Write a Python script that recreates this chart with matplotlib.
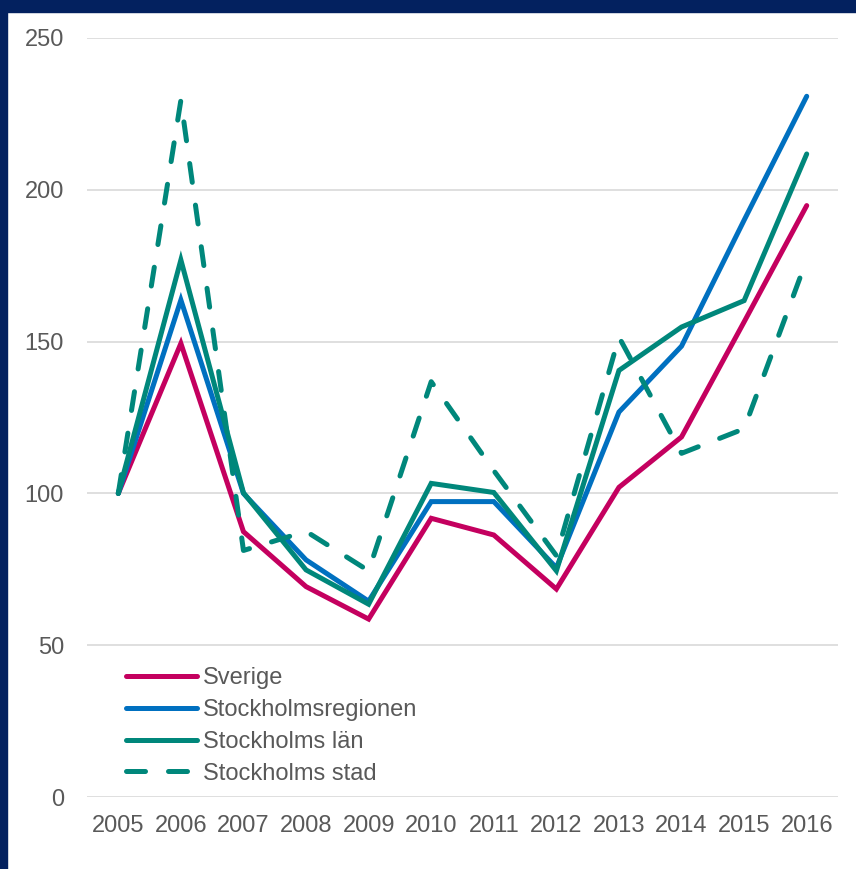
import matplotlib
matplotlib.use("Agg")
import matplotlib.pyplot as plt
from matplotlib.patches import Rectangle

years = ["2005", "2006", "2007", "2008", "2009", "2010", "2011", "2012",
         "2013", "2014", "2015", "2016"]
sverige = [100, 149.4, 87.4, 69.3, 58.6, 91.8, 86.3, 68.5, 102, 118.6, 156.5, 194.8]
sthlm_regionen = [100, 163.7, 100, 78.1, 64.5, 97.3, 97.3, 75.5, 126.8, 148.5, 190, 230.8]
sthlm_lan = [100, 176.9, 100.2, 74.8, 63.5, 103.3, 100.3, 74.5, 140.5, 154.8, 163.5, 211.8]
sthlm_stad = [100, 229.5, 81.2, 87.5, 74.5, 136.8, 107.5, 79.5, 151.5, 113.2, 121.3, 177]

labels = ["Sverige", "Stockholmsregionen", "Stockholms län", "Stockholms stad"]
yticks = [0, 50, 100, 150, 200, 250]

C_MAG = "#C4005F"
C_BLUE = "#0070C0"
C_TEAL = "#00877B"
NAVY = "#03215F"
TXT = "#595959"

plt.rcParams["font.family"] = ["Liberation Sans", "DejaVu Sans"]

fig = plt.figure(figsize=(8.56, 8.69), dpi=100)
W, H = 856, 869
ax = fig.add_axes([87 / W, 1 - 797 / H, (838 - 87) / W, (797 - 38) / H])

x = list(range(len(years)))
lw = 3.6
ax.plot(x, sverige, color=C_MAG, lw=lw, solid_capstyle="round", solid_joinstyle="miter", label=labels[0], zorder=3)
ax.plot(x, sthlm_regionen, color=C_BLUE, lw=lw, solid_capstyle="round", solid_joinstyle="miter", label=labels[1], zorder=4)
ax.plot(x, sthlm_lan, color=C_TEAL, lw=lw, solid_capstyle="round", solid_joinstyle="miter", label=labels[2], zorder=5)
ax.plot(x, sthlm_stad, color=C_TEAL, lw=lw, linestyle=(0, (3.8, 4.6)), dash_capstyle="round",
        label=labels[3], zorder=6)

ax.set_xlim(-0.5, len(years) - 0.5)
ax.set_ylim(0, 250)
ax.set_yticks(yticks)
ax.set_xticks(x)
ax.set_xticklabels(years)
ax.grid(axis="y", color="#D9D9D9", lw=1.2)
ax.set_axisbelow(True)
for s in ax.spines.values():
    s.set_visible(False)
ax.tick_params(axis="both", length=0, labelsize=17, labelcolor=TXT)
ax.tick_params(axis="y", pad=16.5)
ax.tick_params(axis="x", pad=13)

leg = ax.legend(loc="upper left", bbox_to_anchor=(126 / W, 1 - 667 / H), bbox_transform=fig.transFigure,
                frameon=False, fontsize=17, handlelength=3.0, handletextpad=0.26,
                labelspacing=0.42, borderpad=0, borderaxespad=0)
for t in leg.get_texts():
    t.set_color(TXT)

# navy frame pieces
fig.patches.append(Rectangle((0, 0), 7 / W, 1, transform=fig.transFigure, color=NAVY, zorder=0))
fig.patches.append(Rectangle((0, 1 - 12 / H), 1, 12 / H, transform=fig.transFigure, color=NAVY, zorder=0))

fig.savefig("out.png", dpi=100)
